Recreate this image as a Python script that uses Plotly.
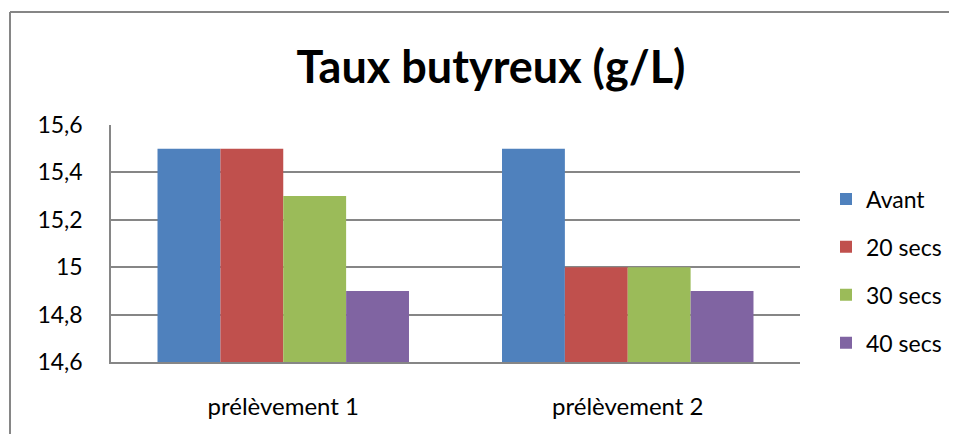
import plotly.graph_objects as go

# data
categories = ['prélèvement 1', 'prélèvement 2']
series_names = ['Avant', '20 secs', '30 secs', '40 secs']
avant = [15.5, 15.5]
secs_20 = [15.5, 15.0]
secs_30 = [15.3, 15.0]
secs_40 = [14.9, 14.9]
y_ticks = [14.6, 14.8, 15.0, 15.2, 15.4, 15.6]

colors = ['#4F81BD', '#C0504D', '#9BBB59', '#8064A2']
FONT = 'Lato'
GREY = '#868686'

# the page body has an 8px margin, so the figure is drawn 16px smaller
# and every position is shifted by 8px
W, H = 957 - 16, 442 - 16
L, T, R, B = 103, 117, 792, 354  # plot area in figure pixels


def make_figure():
    fig = go.Figure()
    for i, (name, values) in enumerate(zip(series_names,
                                            [avant, secs_20, secs_30, secs_40])):
        fig.add_trace(go.Bar(
            x=categories,
            y=values,
            name=name,
            legendgroup=name,
            marker=dict(color=colors[i], line=dict(width=0)),
        ))

    pw, ph = R - L, B - T
    fig.update_layout(
        width=W,
        height=H,
        margin=dict(l=L, r=W - R, t=T, b=H - B, autoexpand=False),
        paper_bgcolor='white',
        plot_bgcolor='white',
        separators=', ',
        barmode='group',
        bargap=0.27,
        bargroupgap=0,
        font=dict(family=FONT, size=23, color='black'),
        title=dict(
            text='<b>Taux butyreux (g/L)</b>',
            font=dict(family=FONT, size=45, color='black'),
            x=(483 - L) / pw, xref='paper', xanchor='center',
            y=1 - 59 / H, yref='container', yanchor='middle',
        ),
        legend=dict(
            x=(818 - L) / pw, xanchor='left',
            y=(B - 263) / ph, yanchor='middle',
            font=dict(family=FONT, size=23),
            traceorder='grouped',
            tracegroupgap=15,
            bgcolor='rgba(0,0,0,0)',
        ),
        showlegend=True,
    )
    fig.update_yaxes(
        range=[14.6, 15.6],
        tickvals=y_ticks,
        showgrid=True,
        gridcolor=GREY,
        gridwidth=1.5,
        showline=True,
        linecolor=GREY,
        linewidth=1.5,
        ticks='',
        ticklabelstandoff=22,
        zeroline=False,
    )
    fig.update_xaxes(
        showline=True,
        linecolor=GREY,
        linewidth=1.5,
        ticks='',
        ticklabelstandoff=22,
        tickfont=dict(size=24),
    )

    # outer chart border (only top and left edges are visible in the crop)
    bx = (2 - L) / pw
    by = (B - 4) / ph
    fig.add_shape(type='line', xref='paper', yref='paper',
                  x0=bx, x1=(W + 10 - L) / pw, y0=by, y1=by,
                  line=dict(color=GREY, width=2))
    fig.add_shape(type='line', xref='paper', yref='paper',
                  x0=bx, x1=bx, y0=by, y1=(B - H - 10) / ph,
                  line=dict(color=GREY, width=2))
    return fig


if __name__ == '__main__':
    fig = make_figure()
    fig.write_html('out.html')
